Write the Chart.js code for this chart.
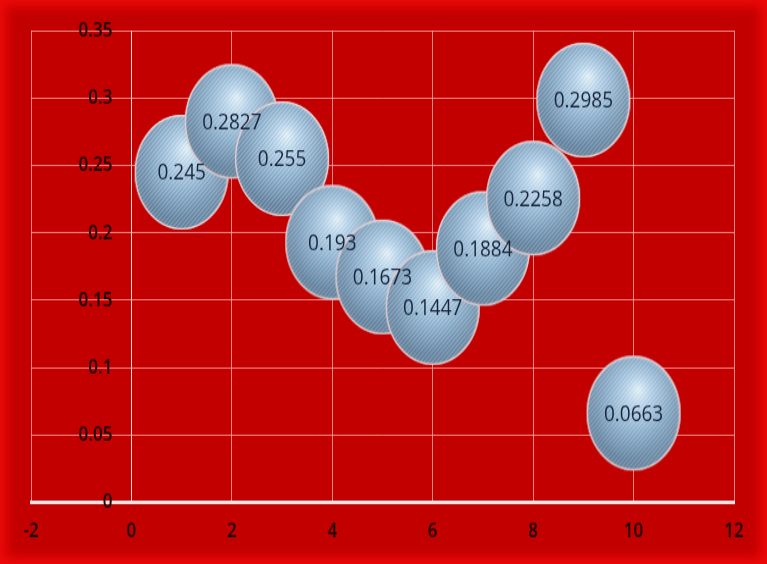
<!DOCTYPE html>
<html>
<head>
<meta charset="utf-8">
<script src="https://cdn.jsdelivr.net/npm/chart.js@4.4.1/dist/chart.umd.min.js"></script>
<style>
  html, body { margin: 0; padding: 0; overflow: hidden; background: #c00000; }
  #wrap {
    position: relative; width: 767px; height: 564px; overflow: hidden;
    background: #c30000;
    box-shadow: inset 0 0 12px 6px rgba(240, 10, 10, 0.95);
  }
  /* the source picture is stretched vertically, so the canvas is too */
  #chart {
    display: block; width: 767px; height: 462px;
    transform: scaleY(1.2208); transform-origin: 0 0;
  }
</style>
</head>
<body>
<div id="wrap"><canvas id="chart" width="767" height="462"></canvas></div>
<script>
var xValues = [1, 2, 3, 4, 5, 6, 7, 8, 9, 10];
var yValues = [0.245, 0.2827, 0.255, 0.193, 0.1673, 0.1447, 0.1884, 0.2258, 0.2985, 0.0663];
var xRange = [-2, 12, 2];    // min, max, step
var yRange = [0, 0.35, 0.05];

var BUBBLE_R = 47;

/* Silver-blue sphere sprite, used as the point style. */
function makeSphere(r) {
  var size = r * 2 + 2;
  var c = document.createElement('canvas');
  c.width = size; c.height = size;
  var g = c.getContext('2d');
  var cx = size / 2, cy = size / 2;

  g.save();
  g.beginPath(); g.arc(cx, cy, r, 0, Math.PI * 2); g.closePath();
  g.clip();

  var base = g.createRadialGradient(cx + 5, cy - r * 0.42, 0, cx, cy - r * 0.1, r * 1.2);
  base.addColorStop(0, '#e9f8ff');
  base.addColorStop(0.22, '#b8d6ee');
  base.addColorStop(0.5, '#8db2d0');
  base.addColorStop(0.8, '#6284a2');
  base.addColorStop(1, '#4a6681');
  g.fillStyle = base;
  g.fillRect(0, 0, size, size);

  // soft reflection along the lower edge
  var refl = g.createRadialGradient(cx - r * 0.15, cy + r * 0.15, r * 0.65, cx, cy, r);
  refl.addColorStop(0, 'rgba(220,240,255,0)');
  refl.addColorStop(0.85, 'rgba(220,240,255,0.12)');
  refl.addColorStop(1, 'rgba(235,245,255,0.5)');
  g.fillStyle = refl;
  g.fillRect(0, 0, size, size);

  // fine diagonal hatching
  g.lineWidth = 1.3;
  for (var k = -size; k < size * 2; k += 4) {
    g.strokeStyle = 'rgba(255,255,255,0.26)';
    g.beginPath(); g.moveTo(k, size); g.lineTo(k + size, 0); g.stroke();
    g.strokeStyle = 'rgba(40,70,100,0.10)';
    g.beginPath(); g.moveTo(k + 2, size); g.lineTo(k + 2 + size, 0); g.stroke();
  }
  g.restore();

  g.beginPath(); g.arc(cx, cy, r - 0.6, 0, Math.PI * 2);
  g.strokeStyle = 'rgba(245,215,215,0.9)';
  g.lineWidth = 1.3;
  g.stroke();
  return c;
}

/* Value text on each bubble, drawn after all bubbles so it stays on top. */
var bubbleLabels = {
  id: 'bubbleLabels',
  afterDatasetsDraw: function (chart) {
    var ctx = chart.ctx;
    var meta = chart.getDatasetMeta(0);
    ctx.save();
    ctx.font = '19px "Open Sans", sans-serif';
    ctx.fillStyle = '#17253a';
    ctx.textAlign = 'center';
    ctx.textBaseline = 'middle';
    meta.data.forEach(function (pt, i) { ctx.fillText(String(yValues[i]), pt.x, pt.y + 1); });
    ctx.restore();
  }
};

Chart.defaults.font.family = '"Open Sans", sans-serif';

var points = xValues.map(function (x, i) { return { x: x, y: yValues[i] }; });
var tickFont = { size: 17, weight: '600' };
var gridCol = 'rgba(255,175,175,0.75)';

new Chart(document.getElementById('chart'), {
  type: 'scatter',
  data: {
    datasets: [{
      data: points,
      pointStyle: makeSphere(BUBBLE_R),
      pointRadius: BUBBLE_R,
      pointHoverRadius: BUBBLE_R
    }]
  },
  options: {
    responsive: false,
    animation: false,
    layout: { autoPadding: false, padding: { left: 31, right: 33, top: 25, bottom: 4 } },
    plugins: { legend: { display: false }, tooltip: { enabled: false } },
    scales: {
      x: {
        type: 'linear', position: 'bottom',
        min: xRange[0], max: xRange[1],
        grid: {
          drawTicks: false, lineWidth: 1,
          color: function (c) { return c.tick && c.tick.value === 0 ? 'rgba(255,235,235,0.95)' : gridCol; }
        },
        border: { color: '#ece2e2', width: 3 },
        ticks: { stepSize: xRange[2], padding: 13, color: '#160505', font: tickFont }
      },
      y: {
        // labels sit just left of the x = 0 line
        type: 'linear', position: { x: -0.38 },
        min: yRange[0], max: yRange[1],
        grid: { color: gridCol, lineWidth: 1, drawTicks: false },
        border: { display: false },
        ticks: {
          stepSize: yRange[2], padding: 0, color: '#160505', font: tickFont,
          callback: function (v) { return String(Math.round(v * 100) / 100); }
        }
      }
    }
  },
  plugins: [bubbleLabels]
});
</script>
</body>
</html>
